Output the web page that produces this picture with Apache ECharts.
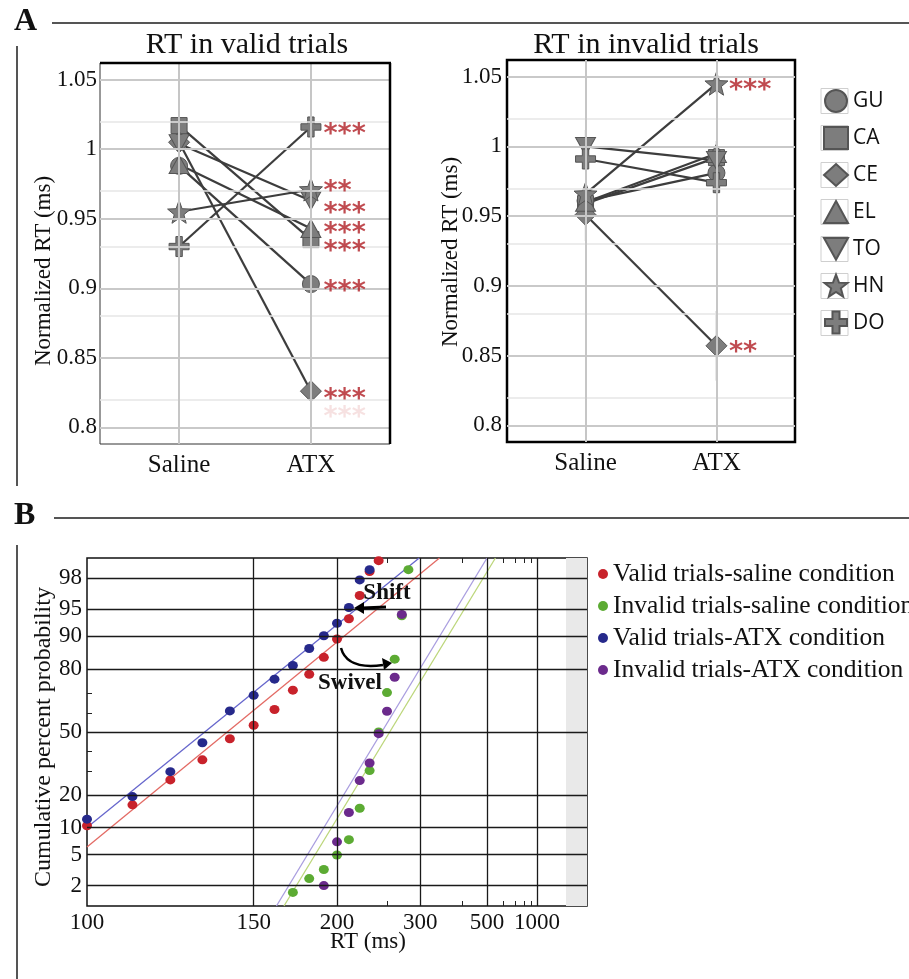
<!DOCTYPE html>
<html><head><meta charset="utf-8">
<script src="https://cdn.jsdelivr.net/npm/echarts@6/dist/echarts.min.js"></script>
<style>html,body{margin:0;padding:0;background:#fff}#c{width:909px;height:979px}</style>
</head><body><div id="c"></div>
<script>
// ---------- DATA ----------
const subjects = ['GU','CA','CE','EL','TO','HN','DO'];
const conditions = ['Saline','ATX'];
const validSaline   = [0.988, 1.017, 1.005, 0.989, 1.004, 0.955, 0.930];
const validATX      = [0.903, 0.935, 0.826, 0.943, 0.963, 0.971, 1.016];
const invalidSaline = [0.961, 0.959, 0.951, 0.960, 1.000, 0.966, 0.991];
const invalidATX    = [0.981, 0.992, 0.857, 0.995, 0.990, 1.045, 0.974];
const validSig      = ['***','***','***','***','***','**','***'];
const validSigY     = [0.9026, 0.9308, 0.8248, 0.9444, 0.9584, 0.974, 1.0155];
const validGhostSig = [[1, 0.8116, '***']];
const invalidSig    = [[1, 0.857, '**'], [1, 1.0447, '***']];
const validErrBars   = [[0, 1.009, 1.026]];
const invalidErrBars = [[0, 0.932, 0.970], [1, 0.832, 0.882], [1, 1.038, 1.053], [1, 0.966, 0.982], [0, 0.990, 1.012], [1, 0.990, 1.004]];
const yTicksA = [0.8, 0.85, 0.9, 0.95, 1, 1.05];
const yMinorA = [0.825, 0.875, 0.925, 0.975, 1.025];

// Panel B: RT (ms) and cumulative percent
const vsRT  = [100,110,120,130,140,150,160,170,180,190,200,210,220,230,240];
const vsPct = [10.5,16.5,26.1,35.5,46.4,53.6,61.8,71.2,78.0,84.1,89.3,93.5,96.6,98.4,98.9];
const isRT  = [170,180,190,200,210,220,230,240,250,260,270,280];
const isPct = [1.6,2.5,3.3,5.0,7.5,15.4,30.3,50.0,70.1,83.5,94.0,98.5];
const vaRT  = [100,110,120,130,140,150,160,170,180,190,200,210,220,230];
const vaPct = [12.2,19.4,29.8,44.3,61.1,68.8,76.0,81.3,86.8,90.1,92.7,95.2,97.9,98.5];
const iaRT  = [190,200,210,220,230,240,250,260,270];
const iaPct = [2.0,7.1,14.1,25.8,33.9,49.1,60.9,76.8,94.2];
const vsFit = [[100, 6.2], [339, 99]];
const isFit = [[165, 1.0], [546, 99]];
const vaFit = [[100, 10.1], [298, 99]];
const iaFit = [[161, 1.0], [500, 99]];
const seriesNamesB = ['Valid trials-saline condition','Invalid trials-saline condition','Valid trials-ATX condition','Invalid trials-ATX condition'];
const xTickRT  = [100,150,200,300,500,1000];
const xGridRT  = [150,200,300,500,1000];
const xMinorRT = [250,400,600,700,800,900];
const yTickPct = [2,5,10,20,50,80,90,95,98];
const yMinorPct = [30,40,60,70];
const noResponseBand = [-0.42, 0];

// ---------- helpers ----------
function probit(p){
  const a=[-3.969683028665376e+01,2.209460984245205e+02,-2.759285104469687e+02,1.383577518672690e+02,-3.066479806614716e+01,2.506628277459239e+00];
  const b=[-5.447609879822406e+01,1.615858368580409e+02,-1.556989798598866e+02,6.680131188771972e+01,-1.328068155288572e+01];
  const c=[-7.784894002430293e-03,-3.223964580411365e-01,-2.400758277161838e+00,-2.549732539343734e+00,4.374664141464968e+00,2.938163982698783e+00];
  const d=[7.784695709041462e-03,3.224671290700398e-01,2.445134137142996e+00,3.754408661907416e+00];
  const pl=0.02425, ph=1-pl; let q,r;
  if(p<pl){q=Math.sqrt(-2*Math.log(p));return (((((c[0]*q+c[1])*q+c[2])*q+c[3])*q+c[4])*q+c[5])/((((d[0]*q+d[1])*q+d[2])*q+d[3])*q+1);}
  if(p<=ph){q=p-0.5;r=q*q;return (((((a[0]*r+a[1])*r+a[2])*r+a[3])*r+a[4])*r+a[5])*q/(((((b[0]*r+b[1])*r+b[2])*r+b[3])*r+b[4])*r+1);}
  q=Math.sqrt(-2*Math.log(1-p));return -(((((c[0]*q+c[1])*q+c[2])*q+c[3])*q+c[4])*q+c[5])/((((d[0]*q+d[1])*q+d[2])*q+d[3])*q+1);
}
const xT = rt => -1000/rt;
const zT = pct => probit(pct/100);
const pts = (rts, pcts) => rts.map((r,i)=>[xT(r), zT(pcts[i])]);

const SERIF = 'Liberation Serif';
const symbolMap = {
  GU:'circle', CA:'rect', CE:'diamond', EL:'triangle',
  TO:'path://M0,0 L100,0 L50,90 Z',
  HN:'path://M50,0 L62.34,33.01 L97.55,34.55 L69.97,56.49 L79.39,90.45 L50,71 L20.61,90.45 L30.03,56.49 L2.45,34.55 L37.66,33.01 Z',
  DO:'path://M34,0 H66 V34 H100 V66 H66 V100 H34 V66 H0 V34 H34 Z'
};
const sizeMap = {GU:17, CA:16, CE:21, EL:[20,18], TO:[20,18], HN:23, DO:20};

const series = [];
function gridLines(xi, yi, vals, axis, color, width, z, dummy){
  series.push({type:'line', xAxisIndex:xi, yAxisIndex:yi, data:[dummy], showSymbol:false, symbol:'none',
    lineStyle:{opacity:0}, silent:true, z:z,
    markLine:{silent:true, symbol:['none','none'], label:{show:false}, emphasis:{disabled:true},
      lineStyle:{color:color, width:width, type:'solid'}, data: vals.map(v=>({[axis]:v}))}});
}
function errBars(idx, bars){
  series.push({type:'custom', xAxisIndex:idx, yAxisIndex:idx, silent:true, z:2, data:bars,
    renderItem:(params, api)=>{
      const p1 = api.coord([api.value(0), api.value(1)]);
      const p2 = api.coord([api.value(0), api.value(2)]);
      return {type:'line', shape:{x1:p1[0], y1:p1[1], x2:p2[0], y2:p2[1]}, style:{stroke:'#8a8a8a', lineWidth:1.3}};
    }});
}
function subjectSeries(idx, sal, atx){
  subjects.forEach((s,i)=>{
    series.push({type:'line', xAxisIndex:idx, yAxisIndex:idx, data:[[0,sal[i]],[1,atx[i]]],
      symbol:'none', showSymbol:false, silent:true, z:3, lineStyle:{color:'#3d3d3d', width:2.2}});
  });
  subjects.forEach((s,i)=>{
    series.push({type:'scatter', name:s, xAxisIndex:idx, yAxisIndex:idx, data:[[0,sal[i]],[1,atx[i]]],
      symbol:symbolMap[s], symbolSize:sizeMap[s], z:4,
      itemStyle:{color:'#7d7d7d', borderColor:'#555', borderWidth:1, opacity:1}});
  });
}
function sigSeries(idx, data, color){
  series.push({type:'scatter', xAxisIndex:idx, yAxisIndex:idx, data:data, symbolSize:1, z:5, silent:true,
    itemStyle:{color:'rgba(0,0,0,0)'},
    label:{show:true, position:'right', distance:12, formatter:p=>p.data[2], color:color,
      fontFamily:'DejaVu Sans', fontWeight:'bold', fontSize:27, offset:[0,7]}});
}

// Panel A grid lines
[0,1].forEach(idx=>{
  gridLines(idx, idx, yMinorA, 'yAxis', '#e6e6e6', 1.5, 1, [0,0.9]);
  gridLines(idx, idx, yTicksA, 'yAxis', '#c9c9c9', 2, 1, [0,0.9]);
  gridLines(idx, idx, [0,1], 'xAxis', '#c6c6c6', 2, 1, [0,0.9]);
});
errBars(0, validErrBars);
errBars(1, invalidErrBars);
subjectSeries(0, validSaline, validATX);
subjectSeries(1, invalidSaline, invalidATX);
sigSeries(0, subjects.map((s,i)=>[1, validSigY[i], validSig[i]]), '#b01e24');
sigSeries(0, validGhostSig, '#f4d9d9');
sigSeries(1, invalidSig, '#b01e24');

// Panel B
gridLines(2, 2, xGridRT.map(xT), 'xAxis', '#1a1a1a', 1.3, 1, [-5,0]);
gridLines(2, 2, yTickPct.map(zT), 'yAxis', '#1a1a1a', 1.3, 1, [-5,0]);
series.push({type:'line', xAxisIndex:2, yAxisIndex:2, data:[[-5,0]], showSymbol:false, symbol:'none', lineStyle:{opacity:0}, silent:true, z:2,
  markArea:{silent:true, itemStyle:{color:'#e9e9e9'}, data:[[{xAxis:noResponseBand[0]},{xAxis:noResponseBand[1]}]]}});
const fitDefs = [[vsFit,'#e36a64'],[isFit,'#bcd67a'],[vaFit,'#6666cc'],[iaFit,'#a99ddf']];
fitDefs.forEach(([f,col])=>{
  series.push({type:'line', xAxisIndex:2, yAxisIndex:2, data:f.map(p=>[xT(p[0]), zT(p[1])]), symbol:'none', showSymbol:false,
    silent:true, z:3, clip:true, lineStyle:{color:col, width:1.3}});
});
const ptDefs = [[vsRT,vsPct,'#c8222b'],[isRT,isPct,'#5cab33'],[vaRT,vaPct,'#26298b'],[iaRT,iaPct,'#6b2a8c']];
ptDefs.forEach(([r,p,col],i)=>{
  series.push({type:'scatter', name:seriesNamesB[i], xAxisIndex:2, yAxisIndex:2, data:pts(r,p),
    symbol:'circle', symbolSize:[10,9], z:4, itemStyle:{color:col, opacity:1}});
});

const labelA = {fontFamily:SERIF, fontSize:23, color:'#111'};
const option = {
  animation:false,
  backgroundColor:'#fff',
  grid:[
    {left:100, top:63, width:290, height:381, show:true, borderColor:'#333', borderWidth:1},
    {left:507, top:60, width:288, height:382, show:true, borderColor:'#000', borderWidth:2.5},
    {left:87, top:558, width:500, height:348, show:true, borderColor:'#111', borderWidth:1.5}
  ],
  xAxis:[0,1].map(idx=>({type:'value', gridIndex:idx, min:-0.6, max:1.6,
      axisLine:{show:false, onZero:false}, axisTick:{show:false}, splitLine:{show:false},
      axisLabel:{customValues:[0,1], formatter:v=>conditions[Math.round(v)], fontFamily:SERIF, fontSize:25, color:'#111', margin:9}}))
    .concat([
      {type:'value', gridIndex:2, min:-10, max:0, position:'bottom',
       axisLine:{show:false, onZero:false}, splitLine:{show:false},
       axisTick:{customValues:xMinorRT.map(xT), inside:true, length:5, lineStyle:{color:'#222'}},
       axisLabel:{customValues:xTickRT.map(xT), formatter:v=>String(Math.round(-1000/v)), fontFamily:SERIF, fontSize:23, color:'#111', margin:5}},
      {type:'value', gridIndex:2, min:-10, max:0, position:'top',
       axisLine:{show:false, onZero:false}, splitLine:{show:false}, axisLabel:{show:false},
       axisTick:{customValues:xMinorRT.map(xT), inside:true, length:5, lineStyle:{color:'#222'}}}
    ]),
  yAxis:[0,1].map(idx=>({type:'value', gridIndex:idx, min:0.788, max:1.062,
      axisLine:{show:false, onZero:false}, axisTick:{show:false}, splitLine:{show:false},
      axisLabel:Object.assign({customValues:yTicksA, formatter:v=>String(+v.toFixed(2)), margin:idx===0?3:5}, labelA)}))
    .concat([
      {type:'value', gridIndex:2, min:zT(1), max:zT(99), position:'left',
       axisLine:{show:false, onZero:false}, splitLine:{show:false},
       axisTick:{customValues:yMinorPct.map(zT), inside:true, length:5, lineStyle:{color:'#222'}},
       axisLabel:{customValues:yTickPct.map(zT), formatter:v=>{let b='';yTickPct.forEach(p=>{if(Math.abs(zT(p)-v)<1e-6)b=String(p);});return b;},
         fontFamily:SERIF, fontSize:23, color:'#111', margin:5}},
      {type:'value', gridIndex:2, min:zT(1), max:zT(99), position:'right',
       axisLine:{show:false, onZero:false}, splitLine:{show:false}, axisLabel:{show:false},
       axisTick:{customValues:yMinorPct.map(zT), inside:true, length:5, lineStyle:{color:'#222'}}}
    ]),
  legend:[
    {data:subjects.map(s=>({name:s, icon:symbolMap[s]})), orient:'vertical', left:823, top:89, padding:0,
     itemWidth:24, itemHeight:22, itemGap:13, selectedMode:false,
     textStyle:{fontFamily:'Open Sans', fontSize:21, color:'#111'}},
    {data:seriesNamesB, orient:'vertical', left:598, top:561, padding:0, icon:'circle', itemWidth:10, itemHeight:10, itemGap:6,
     selectedMode:false, textStyle:{fontFamily:SERIF, fontSize:25.5, color:'#111'}}
  ],
  series:series,
  graphic:[
    {type:'text', left:14, top:6, style:{text:'A', font:'bold 32px "Liberation Serif"', fill:'#111'}},
    {type:'line', shape:{x1:52,y1:23,x2:909,y2:23}, style:{stroke:'#555', lineWidth:2}},
    {type:'line', shape:{x1:17,y1:46,x2:17,y2:486}, style:{stroke:'#555', lineWidth:2}},
    {type:'text', left:14, top:500, style:{text:'B', font:'bold 32px "Liberation Serif"', fill:'#111'}},
    {type:'line', shape:{x1:54,y1:518,x2:909,y2:518}, style:{stroke:'#555', lineWidth:2}},
    {type:'line', shape:{x1:17,y1:545,x2:17,y2:979}, style:{stroke:'#555', lineWidth:2}},
    {type:'text', x:247, y:45, style:{text:'RT in valid trials', font:'30px "Liberation Serif"', fill:'#111', align:'center', verticalAlign:'middle'}},
    {type:'text', x:646, y:45, style:{text:'RT in invalid trials', font:'30px "Liberation Serif"', fill:'#111', align:'center', verticalAlign:'middle'}},
    {type:'text', x:44, y:271, rotation:Math.PI/2, style:{text:'Normalized RT (ms)', font:'23px "Liberation Serif"', fill:'#111', align:'center', verticalAlign:'middle'}},
    {type:'text', x:451, y:252, rotation:Math.PI/2, style:{text:'Normalized RT (ms)', font:'23px "Liberation Serif"', fill:'#111', align:'center', verticalAlign:'middle'}},
    {type:'text', x:44, y:737, rotation:Math.PI/2, style:{text:'Cumulative percent probability', font:'24px "Liberation Serif"', fill:'#111', align:'center', verticalAlign:'middle'}},
    {type:'text', x:368, y:942, style:{text:'RT (ms)', font:'23px "Liberation Serif"', fill:'#111', align:'center', verticalAlign:'middle'}},
    // thick frame edges of left panel A chart
    {type:'line', z:10, shape:{x1:100,y1:63,x2:391,y2:63}, style:{stroke:'#000', lineWidth:2.5}},
    {type:'line', z:10, shape:{x1:390,y1:63,x2:390,y2:444}, style:{stroke:'#000', lineWidth:2.5}},
    // legend boxes
    ...subjects.map((s,i)=>({type:'rect', z:-1, shape:{x:821, y:88.5+37*i, width:27, height:25}, style:{fill:'#fff', stroke:'#cfcfcf', lineWidth:1}})),
    // annotations panel B
    {type:'text', x:387, y:593, z:20, style:{text:'Shift', font:'bold 23px "Liberation Serif"', fill:'#111', align:'center', verticalAlign:'middle'}},
    {type:'line', z:20, shape:{x1:386,y1:607,x2:362,y2:608}, style:{stroke:'#000', lineWidth:3}},
    {type:'polygon', z:20, shape:{points:[[354,608],[364,602],[364,614]]}, style:{fill:'#000'}},
    {type:'text', x:350, y:683, z:20, style:{text:'Swivel', font:'bold 23px "Liberation Serif"', fill:'#111', align:'center', verticalAlign:'middle'}},
    {type:'bezierCurve', z:20, shape:{x1:341,y1:648,cpx1:347,cpy1:670,x2:383,y2:665}, style:{stroke:'#000', lineWidth:2.5, fill:null}},
    {type:'polygon', z:20, shape:{points:[[392,663],[382,658],[384,670]]}, style:{fill:'#000'}}
  ]
};
const chart = echarts.init(document.getElementById('c'), null, {renderer:'canvas'});
chart.setOption(option);
</script>
</body></html>
